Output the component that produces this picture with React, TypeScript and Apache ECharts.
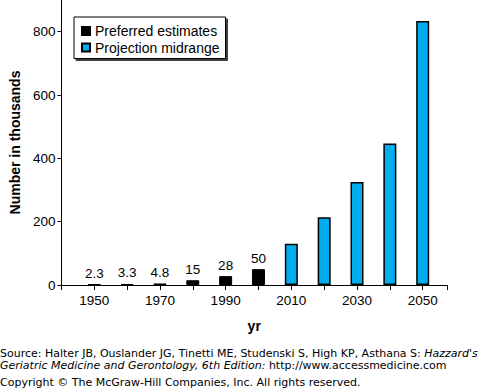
import React, { useEffect, useRef } from 'react';
import * as echarts from 'echarts';

const preferredYears = [1950, 1960, 1970, 1980, 1990, 2000];
const preferredValues = [2.3, 3.3, 4.8, 15, 28, 50];
const projectionYears = [2010, 2020, 2030, 2040, 2050];
const projectionValues = [130, 214, 325, 447, 834];
const yTickValues = [0, 200, 400, 600, 800];
const xLabelValues = [1950, 1970, 1990, 2010, 2030, 2050];
const xTickValues = [1940, 1950, 1960, 1970, 1980, 1990, 2000, 2010, 2020, 2030, 2040, 2050, 2057.4];

const seriesNames = ['Preferred estimates', 'Projection midrange'];
const yTitle = 'Number in thousands';
const xTitle = 'yr';
const footerLine1a = "Source: Halter JB, Ouslander JG, Tinetti ME, Studenski S, High KP, Asthana S: ";
const footerLine1b = "Hazzard's";
const footerLine2a = 'Geriatric Medicine and Gerontology, 6th Edition:';
const footerLine2b = ' http://www.accessmedicine.com';
const footerLine3 = 'Copyright \u00A9 The McGraw-Hill Companies, Inc. All rights reserved.';

const FONT = '"Liberation Sans", Arial, Helvetica, sans-serif';
const FOOT_FONT = '"DejaVu Sans", Verdana, sans-serif';

export default function App() {
  const ref = useRef<HTMLDivElement>(null);
  useEffect(() => {
    document.body.style.margin = '0';
    if (!ref.current) return;
    const chart = echarts.init(ref.current, undefined, { renderer: 'svg' });
    const footSize = 11;
    chart.setOption({
      animation: false,
      backgroundColor: '#fff',
      textStyle: { fontFamily: FONT },
      grid: { left: 58, right: 41, top: 0, bottom: 103, containLabel: false },
      legend: {
        orient: 'vertical',
        left: 74,
        top: 17,
        icon: 'rect',
        itemWidth: 8,
        itemHeight: 8,
        itemGap: 2.5,
        padding: [7, 6, 4, 7],
        borderColor: '#000',
        borderWidth: 1,
        backgroundColor: '#fff',
        shadowColor: 'rgba(0,0,0,0.75)',
        shadowOffsetX: 2,
        shadowOffsetY: 2,
        shadowBlur: 0,
        textStyle: { fontSize: 14, color: '#000', fontFamily: FONT, lineHeight: 14 },
        data: seriesNames,
      },
      xAxis: {
        type: 'value',
        min: 1940,
        max: 2057.4,
        name: xTitle,
        nameLocation: 'middle',
        nameGap: 34,
        nameTextStyle: { fontSize: 14, fontWeight: 'bold', color: '#000', fontFamily: FONT },
        splitLine: { show: false },
        axisLine: { show: true, lineStyle: { color: '#000', width: 1 } },
        axisTick: { show: true, length: 5, lineStyle: { color: '#000' }, customValues: xTickValues },
        axisLabel: {
          color: '#000',
          fontSize: 13.5,
          margin: 8,
          fontFamily: FONT,
          customValues: xLabelValues,
          formatter: (v: number) => String(v),
        },
      },
      yAxis: {
        type: 'value',
        min: 0,
        max: 900,
        name: yTitle,
        nameLocation: 'middle',
        nameRotate: 90,
        nameGap: 37,
        nameTextStyle: { fontSize: 14, fontWeight: 'bold', color: '#000', fontFamily: FONT },
        splitLine: { show: false },
        axisLine: { show: true, lineStyle: { color: '#000', width: 1 } },
        axisTick: { show: true, length: 4, lineStyle: { color: '#000' }, customValues: yTickValues },
        axisLabel: {
          color: '#000',
          fontSize: 13.5,
          margin: 6,
          fontFamily: FONT,
          customValues: yTickValues,
        },
      },
      series: [
        {
          type: 'bar',
          name: seriesNames[0],
          data: preferredYears.map((y, i) => [y, preferredValues[i]]),
          barWidth: 13,
          barGap: '-100%',
          itemStyle: { color: '#000', borderColor: '#000', borderWidth: 1 },
          label: {
            show: true,
            position: 'top',
            distance: 4,
            fontSize: 13.5,
            color: '#000',
            fontFamily: FONT,
            formatter: (p: any) => String(p.value[1]),
          },
        },
        {
          type: 'bar',
          name: seriesNames[1],
          data: projectionYears.map((y, i) => [y, projectionValues[i]]),
          barWidth: 13,
          barGap: '-100%',
          itemStyle: { color: '#00AEEF', borderColor: '#000', borderWidth: 1.5 },
        },
      ],
      graphic: [
        {
          type: 'text',
          x: 0,
          y: 353,
          style: {
            text: '{n|' + footerLine1a + '}{i|' + footerLine1b + '}',
            verticalAlign: 'middle',
            rich: {
              n: { fontFamily: FOOT_FONT, fontSize: footSize, fill: '#000' },
              i: { fontFamily: FOOT_FONT, fontSize: footSize, fontStyle: 'italic', fill: '#000' },
            },
          },
        },
        {
          type: 'text',
          x: 0,
          y: 365,
          style: {
            text: '{i|' + footerLine2a + '}{n|' + footerLine2b + '}',
            verticalAlign: 'middle',
            rich: {
              n: { fontFamily: FOOT_FONT, fontSize: footSize, fill: '#000' },
              i: { fontFamily: FOOT_FONT, fontSize: footSize, fontStyle: 'italic', fill: '#000' },
            },
          },
        },
        {
          type: 'text',
          x: 0,
          y: 382,
          style: {
            text: footerLine3,
            verticalAlign: 'middle',
            fontFamily: FOOT_FONT,
            fontSize: footSize,
            fill: '#000',
          },
        },
      ],
    });
    return () => chart.dispose();
  }, []);
  return <div ref={ref} style={{ width: 488, height: 388 }} />;
}
